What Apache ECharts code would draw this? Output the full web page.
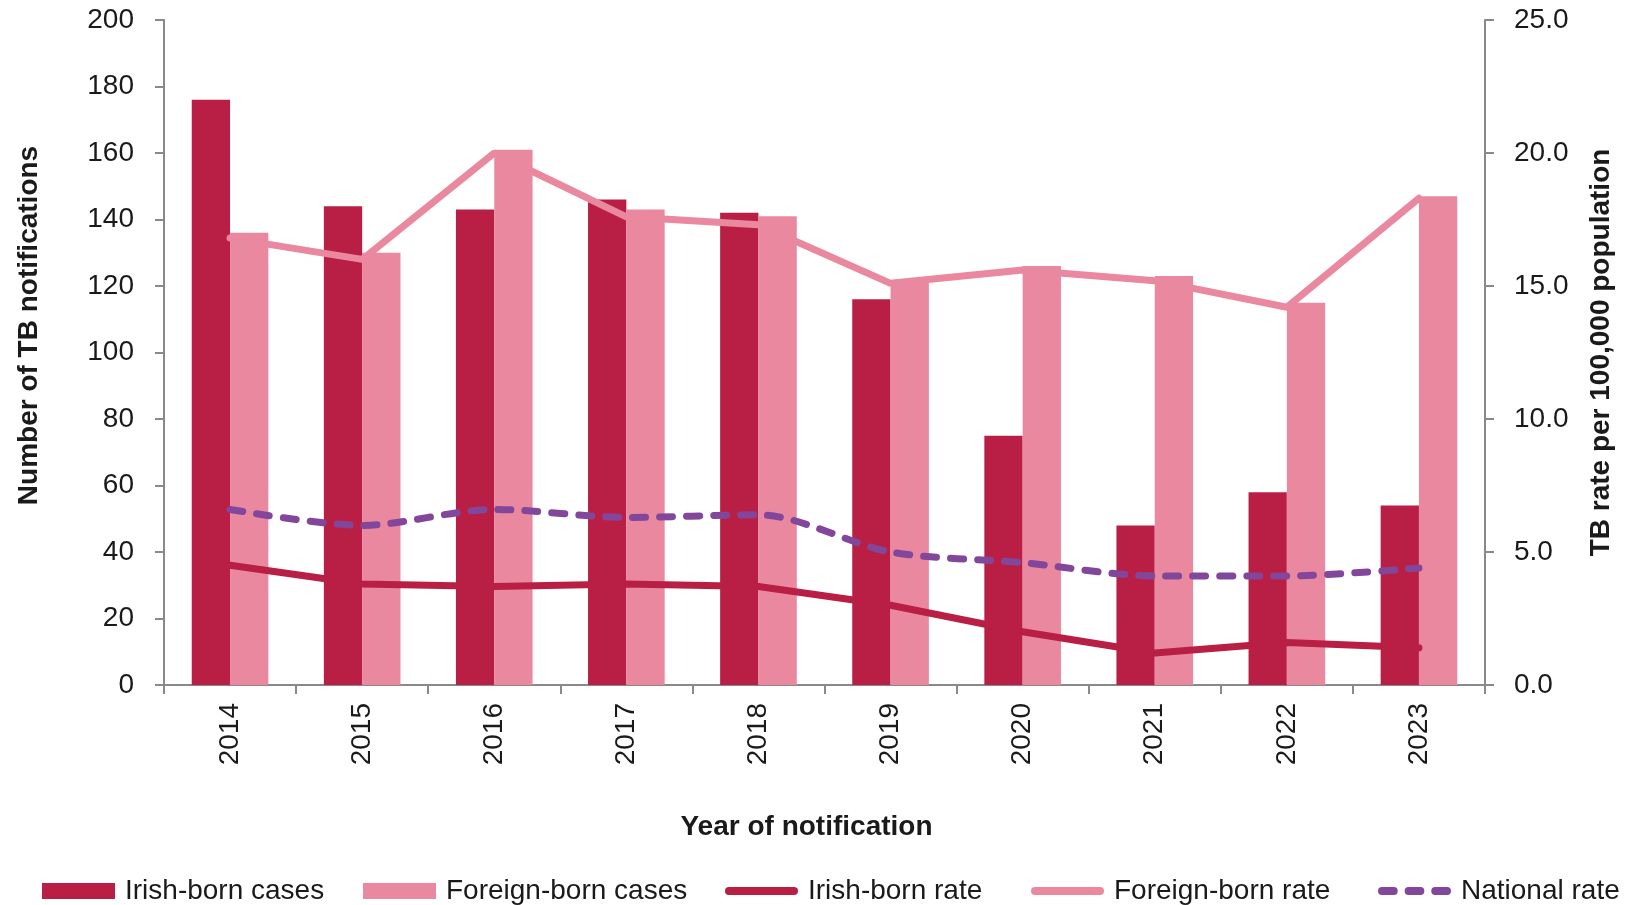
<!DOCTYPE html>
<html>
<head>
<meta charset="utf-8">
<script src="https://cdn.jsdelivr.net/npm/echarts@6/dist/echarts.min.js"></script>
<style>
html,body{margin:0;padding:0;background:#fff;}
#chart{width:1641px;height:905px;}
</style>
</head>
<body>
<div id="chart"></div>
<script>
const years = ['2014','2015','2016','2017','2018','2019','2020','2021','2022','2023'];
const irishCases = [176, 144, 143, 146, 142, 116, 75, 48, 58, 54];
const foreignCases = [136, 130, 161, 143, 141, 121, 126, 123, 115, 147];
const irishRate = [4.5, 3.8, 3.7, 3.8, 3.7, 3.0, 2.0, 1.2, 1.6, 1.4];
const foreignRate = [16.8, 16.0, 20.0, 17.6, 17.3, 15.1, 15.6, 15.2, 14.2, 18.3];
const nationalRate = [6.6, 6.0, 6.6, 6.3, 6.4, 5.0, 4.6, 4.1, 4.1, 4.4];
const seriesNames = ['Irish-born cases','Foreign-born cases','Irish-born rate','Foreign-born rate','National rate'];
const leftTicks = {min: 0, max: 200, interval: 20};
const rightTicks = {min: 0, max: 25, interval: 5};

const cIrish = '#B91F45';
const cForeign = '#EA88A0';
const cNational = '#82479A';
const axisGray = '#898989';
const textColor = '#1a1a1a';
const font = 'Liberation Sans';

const solidIcon = 'path://M4,0 h65 a4,4 0 0 1 0,8 h-65 a4,4 0 0 1 0,-8 Z';
const dashIcon = 'path://M4,0 h12 a4,4 0 0 1 0,8 h-12 a4,4 0 0 1 0,-8 Z M31,0 h12 a4,4 0 0 1 0,8 h-12 a4,4 0 0 1 0,-8 Z M58,0 h12 a4,4 0 0 1 0,8 h-12 a4,4 0 0 1 0,-8 Z';
const legendIcons = ['rect', 'rect', solidIcon, solidIcon, dashIcon];
const legendLefts = [42, 363, 725, 1031, 1378];

const legends = seriesNames.map((n, i) => ({
  left: legendLefts[i], top: 877, padding: 0,
  itemWidth: 73, itemHeight: 16,
  textStyle: {fontFamily: font, fontSize: 28, color: textColor, padding: [0,0,0,5]},
  data: [{name: n, icon: legendIcons[i]}]
}));

const chart = echarts.init(document.getElementById('chart'));
chart.setOption({
  animation: false,
  textStyle: {fontFamily: font},
  grid: {left: 164, right: 156, top: 20, bottom: 220, containLabel: false},
  legend: legends,
  xAxis: {
    type: 'category',
    data: years,
    name: 'Year of notification',
    nameLocation: 'middle',
    nameGap: 128,
    nameTextStyle: {fontFamily: font, fontSize: 28, fontWeight: 'bold', color: textColor, padding: [0, 36, 0, 0]},
    axisLine: {lineStyle: {color: axisGray, width: 2}},
    axisTick: {show: true, length: 9, lineStyle: {color: axisGray, width: 2}},
    axisLabel: {rotate: 90, margin: 18, fontSize: 28, color: textColor, fontFamily: font}
  },
  yAxis: [
    {
      type: 'value',
      min: leftTicks.min, max: leftTicks.max, interval: leftTicks.interval,
      name: 'Number of TB notifications',
      nameLocation: 'middle',
      nameRotate: 90,
      nameGap: 121,
      nameTextStyle: {fontFamily: font, fontSize: 28, fontWeight: 'bold', color: textColor, padding: [0, 0, 0, 54]},
      axisLine: {show: true, lineStyle: {color: axisGray, width: 2}},
      axisTick: {show: true, length: 9, lineStyle: {color: axisGray, width: 2}},
      axisLabel: {margin: 30, fontSize: 28, color: textColor, fontFamily: font},
      splitLine: {show: false}
    },
    {
      type: 'value',
      min: rightTicks.min, max: rightTicks.max, interval: rightTicks.interval,
      name: 'TB rate per 100,000 population',
      nameLocation: 'middle',
      nameRotate: 90,
      nameGap: 102,
      nameTextStyle: {fontFamily: font, fontSize: 28, fontWeight: 'bold', color: textColor},
      axisLine: {show: true, lineStyle: {color: axisGray, width: 2}},
      axisTick: {show: true, length: 9, lineStyle: {color: axisGray, width: 2}},
      axisLabel: {margin: 29, fontSize: 28, color: textColor, fontFamily: font, formatter: v => v.toFixed(1)},
      splitLine: {show: false}
    }
  ],
  series: [
    {name: seriesNames[0], type: 'bar', data: irishCases, yAxisIndex: 0,
     barGap: '0%', barCategoryGap: '42%', itemStyle: {color: cIrish}},
    {name: seriesNames[1], type: 'bar', data: foreignCases, yAxisIndex: 0,
     barGap: '0%', barCategoryGap: '42%', itemStyle: {color: cForeign}},
    {name: seriesNames[2], type: 'line', data: irishRate, yAxisIndex: 1,
     symbol: 'none', z: 5, lineStyle: {color: cIrish, width: 7, cap: 'round'}, itemStyle: {color: cIrish}},
    {name: seriesNames[3], type: 'line', data: foreignRate, yAxisIndex: 1,
     symbol: 'none', z: 5, lineStyle: {color: cForeign, width: 7, cap: 'round'}, itemStyle: {color: cForeign}},
    {name: seriesNames[4], type: 'line', data: nationalRate, yAxisIndex: 1,
     symbol: 'none', z: 6, smooth: 0.3, lineStyle: {color: cNational, width: 7, type: [13, 14], cap: 'round'}, itemStyle: {color: cNational}}
  ]
});
</script>
</body>
</html>
